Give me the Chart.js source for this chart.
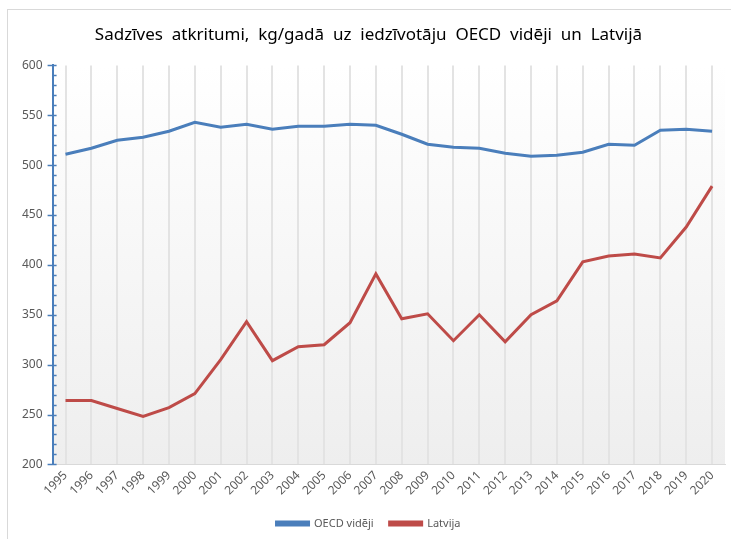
<!DOCTYPE html>
<html>
<head>
<meta charset="utf-8">
<script src="https://cdn.jsdelivr.net/npm/chart.js@4"></script>
<style>
  html, body { margin: 0; padding: 0; background: #fff; }
  #wrap { position: relative; width: 731px; height: 539px; }
  #frame { position: absolute; left: 7px; top: 9px; right: -2px; bottom: -2px;
           border-left: 1px solid #d9d9d9; border-top: 1px solid #d9d9d9; }
  canvas { position: absolute; left: 0; top: 0; }
</style>
</head>
<body>
<div id="wrap">
  <div id="frame"></div>
  <canvas id="chart" width="731" height="539"></canvas>
</div>
<script>
// gadi
const years = ['1995', '1996', '1997', '1998', '1999', '2000', '2001', '2002', '2003',
  '2004', '2005', '2006', '2007', '2008', '2009', '2010', '2011', '2012', '2013',
  '2014', '2015', '2016', '2017', '2018', '2019', '2020'];

// kg/gadā uz iedzīvotāju
const oecdAvg = [511, 517, 525, 528, 534, 543, 538, 541, 536, 539, 539, 541, 540,
  531, 521, 518, 517, 512, 509, 510, 513, 521, 520, 535, 536, 534];
const latvia = [264, 264, 256, 248, 257, 271, 305, 343, 304, 318, 320, 342, 391,
  346, 351, 324, 350, 323, 350, 364, 403, 409, 411, 407, 438, 479];

const yMin = 200;
const yMax = 600;
const yMajor = 50;
const yMinor = 10;

const axisBlue = '#4a7ebb';
const textGrey = '#595959';

// fona krāsojums zīmējuma laukumam
const plotBackground = {
  id: 'plotBackground',
  beforeDraw(chart) {
    const { ctx, chartArea } = chart;
    const grad = ctx.createLinearGradient(0, chartArea.top, 0, chartArea.bottom);
    grad.addColorStop(0, '#ffffff');
    grad.addColorStop(1, '#eeeeee');
    ctx.save();
    ctx.fillStyle = grad;
    ctx.fillRect(chartArea.left, chartArea.top, chartArea.right - chartArea.left, chartArea.bottom - chartArea.top);
    ctx.restore();
  }
};

// lielās un mazās ass atzīmes kā Excel
const yAxisTicks = {
  id: 'yAxisTicks',
  afterDraw(chart) {
    const { ctx } = chart;
    const scale = chart.scales.y;
    const x = scale.right;
    ctx.save();
    ctx.strokeStyle = axisBlue;
    ctx.lineWidth = 1.5;
    scale.ticks.forEach(t => {
      const y = Math.round(scale.getPixelForValue(t.value)) + 0.5;
      const major = t.value % yMajor === 0;
      ctx.beginPath();
      ctx.moveTo(major ? x - 5 : x, y);
      ctx.lineTo(x + 4, y);
      ctx.stroke();
    });
    ctx.restore();
  }
};

const ctx = document.getElementById('chart').getContext('2d');
new Chart(ctx, {
  type: 'line',
  data: {
    labels: years,
    datasets: [
      {
        label: 'OECD vidēji',
        data: oecdAvg,
        borderColor: '#4a7ebb',
        backgroundColor: '#4a7ebb',
        borderWidth: 3,
        pointRadius: 0,
        tension: 0
      },
      {
        label: 'Latvija',
        data: latvia,
        borderColor: '#be4b48',
        backgroundColor: '#be4b48',
        borderWidth: 3,
        pointRadius: 0,
        tension: 0
      }
    ]
  },
  options: {
    responsive: false,
    animation: false,
    layout: {
      padding: { left: 12, right: 6, top: 4, bottom: 0 }
    },
    scales: {
      x: {
        offset: true,
        grid: {
          offset: false,
          color: '#e3e3e3',
          lineWidth: 2,
          drawTicks: false
        },
        border: { color: '#d9d9d9', width: 1 },
        ticks: {
          color: textGrey,
          font: { family: 'Noto Sans', size: 12 },
          minRotation: 45,
          maxRotation: 45,
          autoSkip: false,
          padding: 4
        }
      },
      y: {
        min: yMin,
        max: yMax,
        grid: {
          drawOnChartArea: false,
          drawTicks: false
        },
        border: { color: axisBlue, width: 2 },
        ticks: {
          stepSize: yMinor,
          autoSkip: false,
          maxTicksLimit: 100,
          color: textGrey,
          font: { family: 'Noto Sans', size: 12 },
          padding: 10,
          callback: v => (v % yMajor === 0 ? v : '')
        }
      }
    },
    plugins: {
      title: {
        display: true,
        text: 'Sadzīves  atkritumi,  kg/gadā  uz  iedzīvotāju  OECD  vidēji  un  Latvijā',
        color: '#000000',
        font: { family: 'Noto Sans', size: 17, weight: 'normal' },
        padding: { top: 21, bottom: 20 }
      },
      legend: {
        position: 'bottom',
        labels: {
          color: textGrey,
          font: { family: 'Noto Sans', size: 11 },
          boxWidth: 32,
          boxHeight: 3,
          padding: 16
        }
      },
      tooltip: { enabled: false }
    }
  },
  plugins: [plotBackground, yAxisTicks]
});
</script>
</body>
</html>
